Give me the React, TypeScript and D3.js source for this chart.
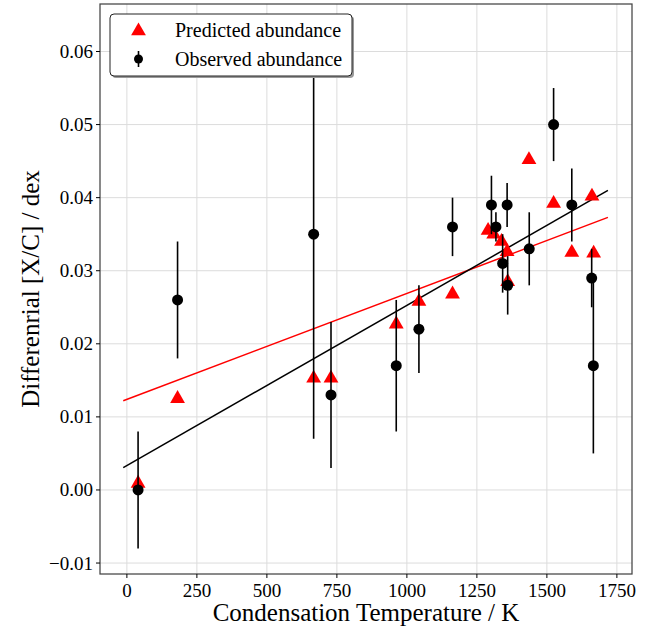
import React from "react";
import * as d3 from "d3";

const obsX = [40, 181, 667, 729, 962, 1043, 1163, 1302, 1318, 1342, 1360, 1358, 1437, 1524, 1589, 1660, 1666];
const obsY = [0.0, 0.026, 0.035, 0.013, 0.017, 0.022, 0.036, 0.039, 0.036, 0.031, 0.028, 0.039, 0.033, 0.05, 0.039, 0.029, 0.017];
const obsErr = [0.008, 0.008, 0.028, 0.01, 0.009, 0.006, 0.004, 0.004, 0.002, 0.004, 0.004, 0.003, 0.005, 0.005, 0.005, 0.004, 0.012];

const predX = [40, 181, 667, 729, 962, 1043, 1163, 1290, 1310, 1338, 1358, 1360, 1436, 1524, 1589, 1661, 1667];
const predY = [0.0011, 0.0127, 0.0155, 0.0155, 0.0229, 0.026, 0.027, 0.0357, 0.0352, 0.0342, 0.0328, 0.0287, 0.0454, 0.0394, 0.0327, 0.0404, 0.0326];

const fitX = [-13, 1718];
const fitPred = [0.0122, 0.0373];
const fitObs = [0.00305, 0.041];

const xTicks = [0, 250, 500, 750, 1000, 1250, 1500, 1750];
const yTicks = [-0.01, 0.0, 0.01, 0.02, 0.03, 0.04, 0.05, 0.06];

const W = 662;
const H = 633;
const L = 100, R = 632, T = 4, B = 574;
const FONT = "'Liberation Serif', 'DejaVu Serif', serif";

export default function App() {
  const x = d3.scaleLinear().domain([-96, 1804]).range([L, R]);
  const y = d3.scaleLinear().domain([-0.0115, 0.0665]).range([B, T]);
  const line = d3.line<[number, number]>().x((d) => x(d[0])).y((d) => y(d[1]));
  const tri = d3.symbol().type(d3.symbolTriangle).size(95)();
  const fmtY = (v: number) => (v < 0 ? "\u2212" : "") + Math.abs(v).toFixed(2);

  return (
    <svg width={W} height={H} style={{ position: "absolute", left: 0, top: 0, background: "#fff" }} fontFamily={FONT}>
      <defs>
        <clipPath id="plot">
          <rect x={L} y={T} width={R - L} height={B - T} />
        </clipPath>
      </defs>
      <rect x={0} y={0} width={W} height={H} fill="#fff" />
      {/* grid */}
      <g stroke="#dcdcdc" strokeWidth={1}>
        {xTicks.map((t) => (
          <line key={"gx" + t} x1={x(t)} x2={x(t)} y1={T} y2={B} />
        ))}
        {yTicks.map((t) => (
          <line key={"gy" + t} x1={L} x2={R} y1={y(t)} y2={y(t)} />
        ))}
      </g>
      <g clipPath="url(#plot)">
        <path d={line(fitX.map((v, i) => [v, fitPred[i]]) as any) || ""} stroke="#ff0000" strokeWidth={1.5} fill="none" />
        <path d={line(fitX.map((v, i) => [v, fitObs[i]]) as any) || ""} stroke="#000" strokeWidth={1.5} fill="none" />
        {predX.map((v, i) => (
          <path key={"p" + i} d={tri || ""} transform={`translate(${x(v)},${y(predY[i]) + 1.5})`} fill="#ff0000" />
        ))}
        {obsX.map((v, i) => (
          <g key={"o" + i}>
            <line x1={x(v)} x2={x(v)} y1={y(obsY[i] - obsErr[i])} y2={y(obsY[i] + obsErr[i])} stroke="#000" strokeWidth={1.6} />
            <circle cx={x(v)} cy={y(obsY[i])} r={5.5} fill="#000" />
          </g>
        ))}
      </g>
      {/* frame */}
      <rect x={L} y={T} width={R - L} height={B - T} fill="none" stroke="#444" strokeWidth={1.25} />
      {/* ticks */}
      <g stroke="#000" strokeWidth={1}>
        {xTicks.map((t) => (
          <line key={"tx" + t} x1={x(t)} x2={x(t)} y1={B} y2={B + 4} />
        ))}
        {yTicks.map((t) => (
          <line key={"ty" + t} x1={L - 4} x2={L} y1={y(t)} y2={y(t)} />
        ))}
      </g>
      <g fontSize={19} fill="#000">
        {xTicks.map((t) => (
          <text key={"lx" + t} x={x(t)} y={B + 23} textAnchor="middle">
            {t}
          </text>
        ))}
        {yTicks.map((t) => (
          <text key={"ly" + t} x={L - 7} y={y(t) + 6.5} textAnchor="end">
            {fmtY(t)}
          </text>
        ))}
      </g>
      <text x={(L + R) / 2} y={621} textAnchor="middle" fontSize={25}>
        Condensation Temperature / K
      </text>
      <text transform={`translate(39,${(T + B) / 2}) rotate(-90)`} textAnchor="middle" fontSize={25}>
        Differenrial [X/C] / dex
      </text>
      {/* legend */}
      <g>
        <rect x={112} y={16} width={242} height={62} rx={4} fill="#999" />
        <rect x={110} y={14} width={242} height={62} rx={4} fill="#fff" stroke="#222" strokeWidth={1} />
        <path d={tri || ""} transform={`translate(138.5,31)`} fill="#ff0000" />
        <line x1={138.5} x2={138.5} y1={51} y2={67} stroke="#000" strokeWidth={1.6} />
        <circle cx={138.5} cy={59} r={4.5} fill="#000" />
        <text x={175} y={37} fontSize={20}>Predicted abundance</text>
        <text x={175} y={66} fontSize={20}>Observed abundance</text>
      </g>
    </svg>
  );
}
